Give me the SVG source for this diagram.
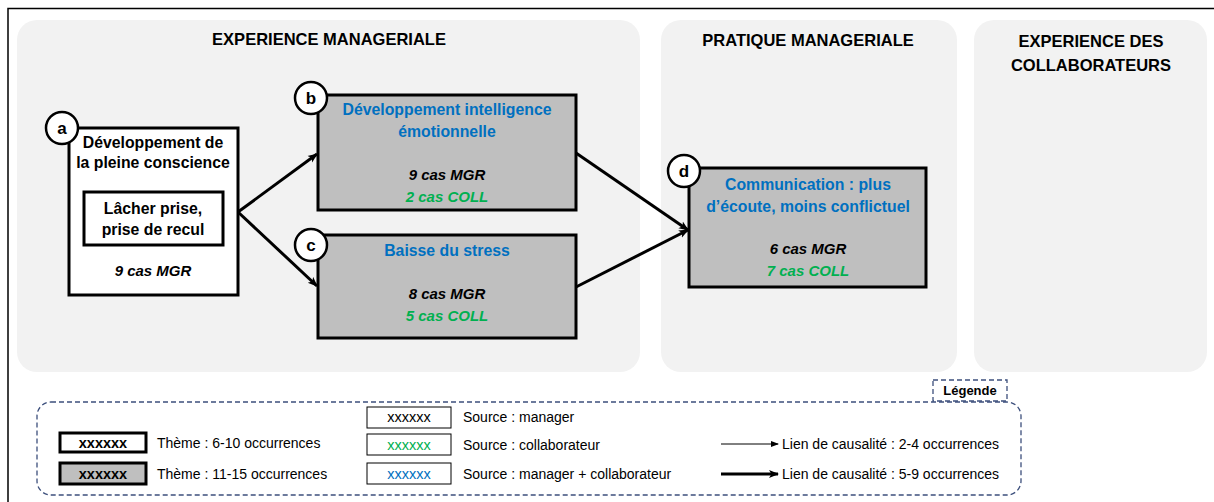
<svg xmlns="http://www.w3.org/2000/svg" width="1214" height="502" viewBox="0 0 1214 502">
  <style>
    text { font-family: "Liberation Sans", Arial, sans-serif; }
    .panel { fill: #f2f2f2; stroke: none; }
    .title { font-size: 16.5px; font-weight: bold; fill: #000; text-anchor: middle; }
    .box { stroke: #000; stroke-width: 3; }
    .white { fill: #fff; }
    .grey { fill: #bfbfbf; }
    .badge { fill: #fff; stroke: #000; stroke-width: 2.5; }
    .badge-txt { font-size: 17px; font-weight: bold; text-anchor: middle; fill: #000; }
    .lbl { font-size: 15.8px; font-weight: bold; text-anchor: middle; fill: #000; }
    .blue { fill: #0070c0; }
    .cas { font-size: 15px; font-weight: bold; font-style: italic; text-anchor: middle; fill: #000; }
    .green { fill: #00b050; }
    .link { stroke: #000; stroke-width: 3; fill: none; }
    .leg-frame { fill: none; stroke: #3c4f7c; stroke-width: 1.3; stroke-dasharray: 5 3; }
    .leg-txt { font-size: 14px; fill: #000; }
    .leg-x { font-size: 14.5px; text-anchor: middle; }
  </style>
  <defs>
    <marker id="head" markerWidth="10" markerHeight="10" refX="9" refY="5" orient="auto" markerUnits="userSpaceOnUse">
      <path d="M0,1 L10,5 L0,9 L2.5,5 Z" fill="#000"/>
    </marker>
    <marker id="head-sm" markerWidth="8" markerHeight="8" refX="7" refY="4" orient="auto" markerUnits="userSpaceOnUse">
      <path d="M0,1 L8,4 L0,7 Z" fill="#000"/>
    </marker>
  </defs>

  <!-- outer frame -->
  <path d="M8,502 V8.5 H1214" fill="none" stroke="#000" stroke-width="1.5"/>

  <!-- column panels -->
  <g id="panels">
    <rect class="panel" x="17" y="20" width="623" height="352" rx="20"/>
    <rect class="panel" x="661" y="20" width="296" height="352" rx="20"/>
    <rect class="panel" x="974" y="20" width="233" height="352" rx="20"/>
    <text class="title" x="329" y="45">EXPERIENCE MANAGERIALE</text>
    <text class="title" x="808" y="46">PRATIQUE MANAGERIALE</text>
    <text class="title" x="1091" y="47">EXPERIENCE DES</text>
    <text class="title" x="1091" y="71">COLLABORATEURS</text>
  </g>

  <!-- causal links -->
  <g id="connectors">
    <line class="link" x1="238" y1="212" x2="317" y2="154" marker-end="url(#head)"/>
    <line class="link" x1="238" y1="212" x2="317" y2="286" marker-end="url(#head)"/>
    <line class="link" x1="576" y1="153" x2="688" y2="230" marker-end="url(#head)"/>
    <line class="link" x1="576" y1="287" x2="688" y2="230" marker-end="url(#head)"/>
  </g>

  <!-- node a -->
  <g id="node-a">
    <rect class="box white" x="69" y="128" width="169" height="167"/>
    <text class="lbl" x="153" y="148">Développement de</text>
    <text class="lbl" x="153" y="168">la pleine conscience</text>
    <rect class="box white" x="84" y="192" width="139" height="53"/>
    <text class="lbl" x="153" y="214">Lâcher prise,</text>
    <text class="lbl" x="153" y="235">prise de recul</text>
    <text class="cas" x="153" y="276">9 cas MGR</text>
    <circle class="badge" cx="62" cy="128" r="16"/>
    <text class="badge-txt" x="62" y="134">a</text>
  </g>

  <!-- node b -->
  <g id="node-b">
    <rect class="box grey" x="318" y="95" width="258" height="115"/>
    <text class="lbl blue" x="447" y="115">Développement intelligence</text>
    <text class="lbl blue" x="447" y="137">émotionnelle</text>
    <text class="cas" x="447" y="180">9 cas MGR</text>
    <text class="cas green" x="447" y="202">2 cas COLL</text>
    <circle class="badge" cx="311" cy="98" r="16"/>
    <text class="badge-txt" x="311" y="104">b</text>
  </g>

  <!-- node c -->
  <g id="node-c">
    <rect class="box grey" x="318" y="235" width="258" height="103"/>
    <text class="lbl blue" x="447" y="256">Baisse du stress</text>
    <text class="cas" x="447" y="299">8 cas MGR</text>
    <text class="cas green" x="447" y="321">5 cas COLL</text>
    <circle class="badge" cx="311" cy="245" r="16"/>
    <text class="badge-txt" x="311" y="251">c</text>
  </g>

  <!-- node d -->
  <g id="node-d">
    <rect class="box grey" x="689" y="168" width="237" height="119"/>
    <text class="lbl blue" x="808" y="190">Communication : plus</text>
    <text class="lbl blue" x="808" y="212">d’écoute, moins conflictuel</text>
    <text class="cas" x="808" y="254">6 cas MGR</text>
    <text class="cas green" x="808" y="276">7 cas COLL</text>
    <circle class="badge" cx="684" cy="171" r="16"/>
    <text class="badge-txt" x="684" y="177">d</text>
  </g>

  <!-- legend -->
  <g id="legend">
    <rect class="leg-frame" x="37" y="402" width="984" height="93" rx="14"/>
    <rect x="933" y="380" width="74" height="21" fill="#fff" stroke="#3c4f7c" stroke-width="1.3" stroke-dasharray="5 3"/>
    <text x="970" y="395" font-size="13" font-weight="bold" text-anchor="middle">Légende</text>

    <rect x="60" y="433" width="86" height="19" fill="#fff" stroke="#000" stroke-width="3"/>
    <text class="leg-x" x="103" y="448" font-weight="bold">xxxxxx</text>
    <text class="leg-txt" x="157" y="448">Thème : 6-10 occurrences</text>
    <rect x="60" y="463" width="86" height="21" fill="#bfbfbf" stroke="#000" stroke-width="3"/>
    <text class="leg-x" x="103" y="479" font-weight="bold">xxxxxx</text>
    <text class="leg-txt" x="157" y="479">Thème : 11-15 occurrences</text>

    <rect x="367" y="407" width="84" height="21" fill="#fff" stroke="#000" stroke-width="1"/>
    <text class="leg-x" x="409" y="422" fill="#000">xxxxxx</text>
    <text class="leg-txt" x="463" y="422">Source : manager</text>
    <rect x="367" y="434" width="84" height="21" fill="#fff" stroke="#000" stroke-width="1"/>
    <text class="leg-x" x="409" y="450" fill="#00b050">xxxxxx</text>
    <text class="leg-txt" x="463" y="450">Source : collaborateur</text>
    <rect x="367" y="463" width="84" height="21" fill="#fff" stroke="#000" stroke-width="1"/>
    <text class="leg-x" x="409" y="479" fill="#0070c0">xxxxxx</text>
    <text class="leg-txt" x="463" y="479">Source : manager + collaborateur</text>

    <line x1="721" y1="444" x2="778" y2="444" stroke="#000" stroke-width="1" marker-end="url(#head-sm)"/>
    <text class="leg-txt" x="782" y="449">Lien de causalité : 2-4 occurrences</text>
    <line x1="721" y1="474" x2="778" y2="474" stroke="#000" stroke-width="3" marker-end="url(#head)"/>
    <text class="leg-txt" x="782" y="479">Lien de causalité : 5-9 occurrences</text>
  </g>
</svg>
